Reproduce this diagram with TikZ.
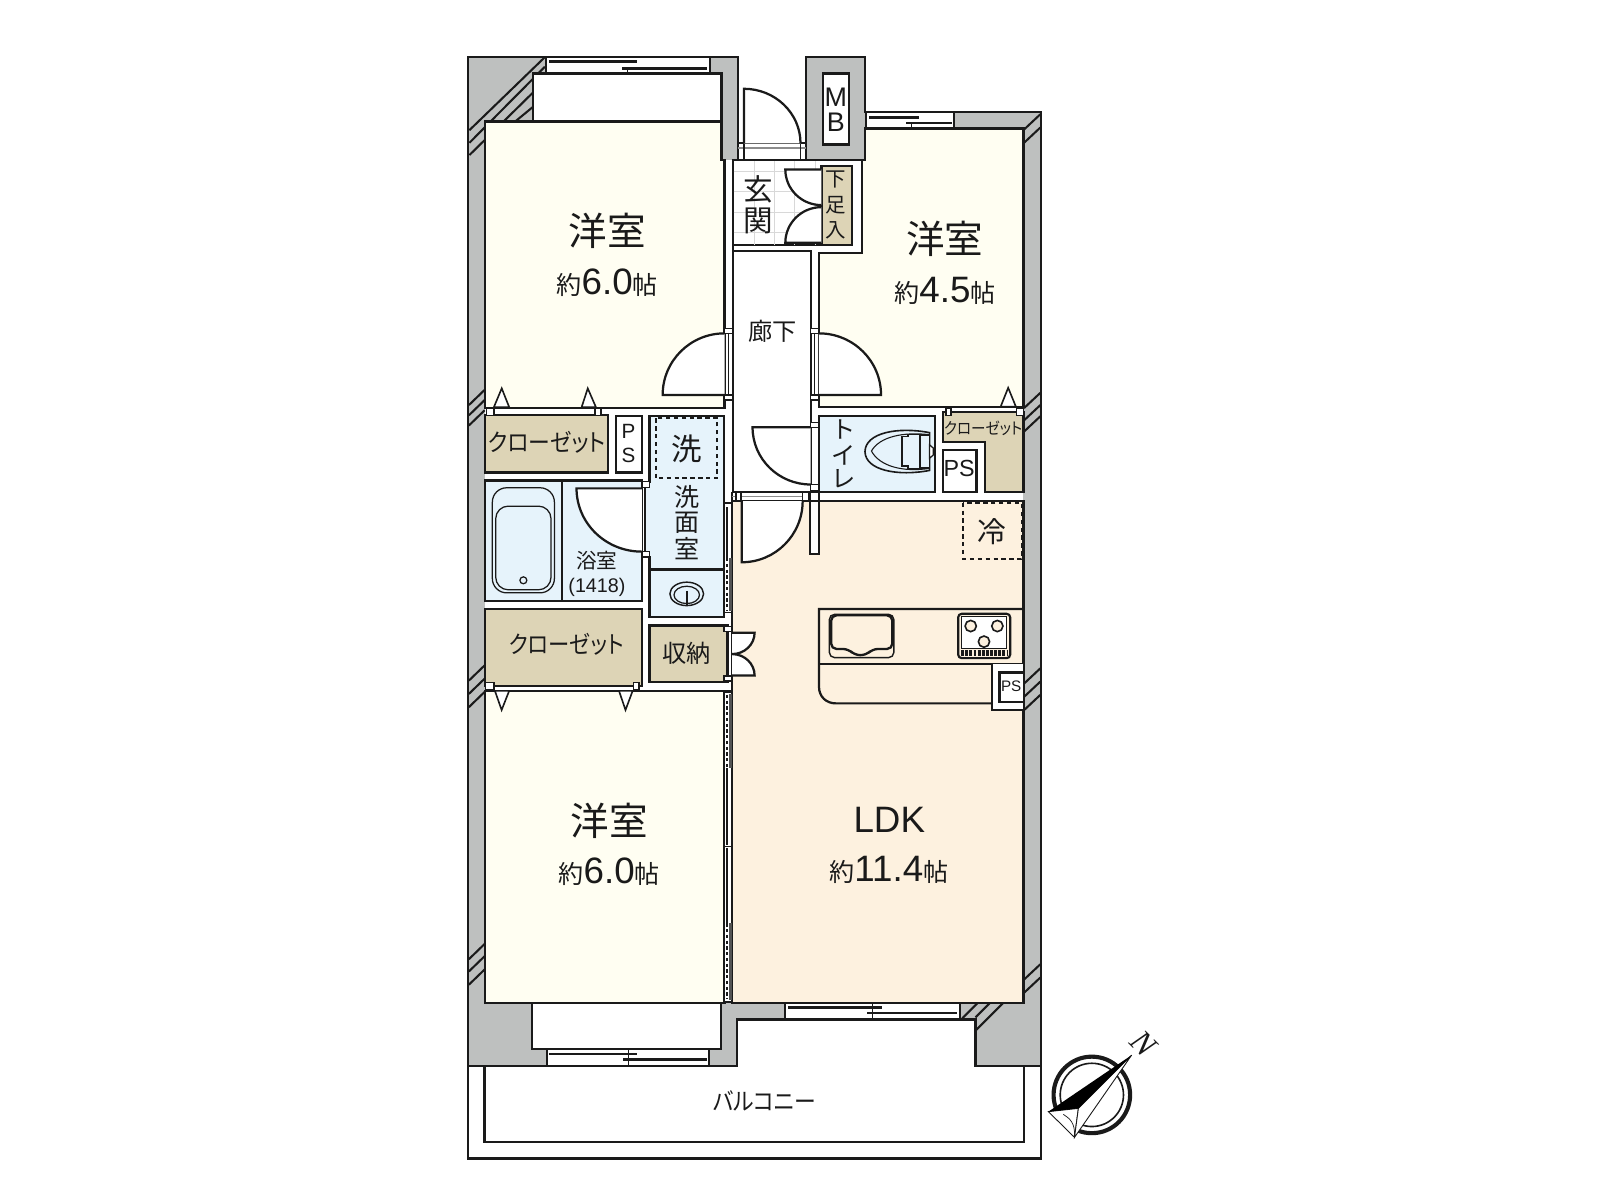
\documentclass[tikz,border=0pt]{standalone}
\usepackage{fontspec}
\setmainfont{Noto Sans CJK JP}
\newfontfamily\jp{Noto Sans CJK JP}
\newfontfamily\jpk[RawFeature=+palt]{Noto Sans CJK JP}
\newfontfamily\lat{Liberation Sans}
\newfontfamily\ser{Liberation Serif}
\newcommand\fs[1]{\fontsize{#1pt}{#1pt}\selectfont}
\definecolor{wallc}{HTML}{BEC0BF}
\definecolor{creamc}{HTML}{FFFEF2}
\definecolor{ldkc}{HTML}{FDF1DF}
\definecolor{bluec}{HTML}{E6F3FB}
\definecolor{closetc}{HTML}{DDD4B6}
\definecolor{inkc}{HTML}{1A1A1A}
\definecolor{tilec}{HTML}{D8D8D8}
\tikzset{
  ln/.style={draw=inkc,line width=1.25pt,line join=miter},
  thin ln/.style={draw=inkc,line width=.6pt},
  room/.style={ln,fill=creamc},
  bluer/.style={ln,fill=bluec},
  closet/.style={ln,fill=closetc},
  whitebox/.style={ln,fill=white},
  jamb/.style={draw=inkc,line width=.8pt,fill=white},
  label/.style={inner sep=0pt,outer sep=0pt,text=inkc,font=\jp},
  rail/.style={draw=inkc,line width=1.5pt},
  hatchl/.style={draw=inkc,line width=1.15pt},
  tri/.style={draw=inkc,line width=.9pt,fill=white,line join=miter},
  dash box/.style={draw=inkc,line width=1pt,dash pattern=on 2.4pt off 2pt},
  dots/.style={draw=inkc,line width=.7pt,dash pattern=on 1.8pt off 1.4pt},
  bar/.style={draw=inkc!75,line width=1.7pt},
}
\newcommand\door[6]{%
  \fill[white] (#1,#2) -- (#1+#3,#2+#4) .. controls (#1+#3+.5523*#5,#2+#4+.5523*#6) and (#1+#5+.5523*#3,#2+#6+.5523*#4) .. (#1+#5,#2+#6) -- cycle;
  \draw[ln] (#1,#2) -- (#1+#3,#2+#4) .. controls (#1+#3+.5523*#5,#2+#4+.5523*#6) and (#1+#5+.5523*#3,#2+#6+.5523*#4) .. (#1+#5,#2+#6);
}
\newcommand\hatchR[1]{\draw[hatchl] (1019.5,#1) -- (1003.5,#1+15);}
\newcommand\hatchL[1]{\draw[hatchl] (475,#1) -- (459.5,#1+15);}
\begin{document}
\begin{tikzpicture}[x=.02cm,y=-.02cm]
\useasboundingbox (0,0) rectangle (1568,1176);
\fill[white] (0,0) rectangle (1568,1176);
% structure footprint
\draw[ln,fill=wallc] (459,56) -- (723,56) -- (723,157) -- (790,157) -- (790,56) -- (848,56) -- (848,110) -- (1020,110) -- (1020,1045) -- (956,1045) -- (956,999) -- (722,999) -- (722,1045) -- (459,1045) -- cycle;
\fill[white] (475,157) rectangle (1003,983);
% hatching
\draw[hatchl] (534,56) -- (460,127.6);
\draw[hatchl] (534,65.4) -- (460,140);
\draw[hatchl] (522,91) -- (460,152);
\draw[hatchl] (522,105) -- (505,119);
\foreach \y in {382,392,402,652,665,678,925,937,950} {\hatchL{\y}}
\foreach \y in {112,125,385,397,408,655,668,681,945,958} {\hatchR{\y}}
\draw[hatchl] (958,983) -- (943,998);
\draw[hatchl] (970,983) -- (956,997);
\draw[hatchl] (983,983) -- (956,1010);
% windows
\draw[whitebox] (535,56) rectangle (696,72);
\draw[rail] (538,60.5) -- (624,60.5);
\draw[rail] (610,67) -- (693,67);
\draw[thin ln] (614.5,67) -- (614.5,72);
\draw[whitebox] (848.5,110) rectangle (935,126);
\draw[rail] (852,115) -- (901,115);
\draw[rail] (888,120.5) -- (933,120.5);
\draw[thin ln] (893,120.5) -- (893,126);
\draw[whitebox] (536.4,1028) rectangle (695,1045);
\draw[rail] (538,1033) -- (624,1033);
\draw[rail] (610.6,1038) -- (693,1038);
\draw[thin ln] (615.6,1028) -- (615.6,1045);
\draw[whitebox] (769.5,983) rectangle (940.5,999);
\draw[rail] (772,987) -- (864,987);
\draw[rail] (850,992.7) -- (938,992.7);
\draw[thin ln] (855,983) -- (855,999);
% bays
\draw[whitebox] (522,72) rectangle (707,119);
\draw[whitebox] (521,983) rectangle (706.5,1028);
% entrance threshold
\draw[draw=inkc,line width=.8pt] (723,140) -- (790,140);
\draw[draw=tilec!60!inkc,line width=.8pt] (723,145) -- (790,145);
\draw[draw=inkc,line width=.7pt] (729,140) -- (729,157);
\draw[draw=inkc,line width=.7pt] (784.5,140) -- (784.5,157);
% rooms
\draw[room] (475,119) -- (707,119) -- (707,157) -- (710,157) -- (710,400) -- (475,400) -- cycle;
\draw[room] (848,126) -- (1003,126) -- (1003,399) -- (802.6,399) -- (802.6,248) -- (844.6,248) -- (844.6,157) -- (848,157) -- cycle;
\draw[room] (475,677) -- (710,677) -- (710,983) -- (475,983) -- cycle;
\fill[ldkc] (717.5,491) rectangle (1003,983);
\draw[ln] (717.5,491) -- (1003,491) -- (1003,983) -- (717.5,983) -- cycle;
% corridor and entry walls
\draw[ln] (718.5,157) -- (718.5,482.5) -- (794.5,482.5) -- (794.5,245.7) -- (718.5,245.7);
\draw[ln] (717.5,482.5) -- (717.5,983);
\draw[draw=inkc,line width=.8pt] (717,157) -- (845,157);
\draw[ln] (718.5,240) -- (835,240) -- (835,162.7) -- (805,162.7);
\draw[draw=tilec!60!inkc,line width=.7pt] (717,486.7) -- (794,486.7);
% entry tiles
\foreach \x in {739,759,779,799} {\draw[tilec,line width=.6pt] (\x,158) -- (\x,240);}
\foreach \y in {168,188,208,228} {\draw[tilec,line width=.6pt] (719,\y) -- (805,\y);}
% shoe cupboard
\draw[closet] (805,162.7) rectangle (835,240);
\door{805}{166}{-35.4}{0}{0}{35}
\door{805}{238}{-35.4}{0}{0}{-35}
% MB
\draw[whitebox] (806.5,72) rectangle (832,141.5);
% closets, PS, laundry, bath
\draw[closet] (475,406.7) rectangle (595.5,463);
\draw[whitebox] (603.7,407.7) rectangle (628.9,463);
\draw[bluer] (636.4,407.7) -- (709.5,407.7) -- (709.5,605) -- (636.4,605) -- (636.4,546) -- (632,546) -- (632,472) -- (636.4,472) -- cycle;
\draw[ln] (636.4,558) -- (709.5,558);
\draw[dash box] (642.6,410) rectangle (703,468.8);
\draw[bluer] (475,471) rectangle (629,589);
\draw[ln] (551,471) -- (551,589);
\door{629}{478.6}{-64}{0}{0}{62}
\draw[jamb] (629,472) rectangle (636.4,478);
\draw[jamb] (629,540.6) rectangle (636.4,546);
% tub
\draw[draw=inkc,line width=.7pt,rounded corners=8pt] (482.5,478) rectangle (543.3,581);
\draw[draw=inkc,line width=.7pt,rounded corners=7pt] (485.8,496) rectangle (540,578);
\draw[draw=inkc,line width=.7pt] (512.9,568.7) circle[radius=3.4];
% wash basin
\draw[draw=inkc,line width=.8pt] (673,582) ellipse[x radius=16.5,y radius=11.5];
\draw[draw=inkc,line width=.7pt] (673,583) ellipse[x radius=12.5,y radius=8.5];
\draw[draw=inkc,line width=1pt] (673,579) -- (673,593);
% lower closet and storage
\draw[closet] (475,597) rectangle (629,672);
\draw[closet] (636.4,613) rectangle (713,668.7);
\draw[ln] (636,677) -- (717.5,677);
\draw[ln] (636,605) -- (709.5,605);
\draw[jamb] (709.5,614) rectangle (717,619);
\draw[jamb] (709.5,662.5) rectangle (717,667.5);
\door{717.5}{620}{22}{0}{0}{21}
\door{717.5}{662}{22}{0}{0}{-21}
% closet jambs and triangles
\draw[jamb] (477,400) rectangle (484,407);
\draw[jamb] (583,400) rectangle (589,407);
\draw[jamb] (476,669) rectangle (484,676);
\draw[jamb] (621,669) rectangle (626,676);
\draw[tri] (484,399) -- (491.7,380.6) -- (499,399) -- cycle;
\draw[tri] (570,399) -- (576,380.6) -- (584,399) -- cycle;
\draw[tri] (485,677) -- (491.6,695.8) -- (499,677) -- cycle;
\draw[tri] (606.6,677) -- (613,695.8) -- (620,677) -- cycle;
\draw[tri] (980.6,398.6) -- (988,380) -- (995.6,398.6) -- cycle;
% sliding door strips
\draw[draw=inkc,line width=.8pt,fill=white] (709.5,493) rectangle (717.5,600);
\draw[draw=inkc,line width=.7pt] (712.5,497) -- (712.5,547);
\draw[dots] (712.5,547) -- (712.5,598);
\draw[bar] (715.6,547) -- (715.6,599);
\draw[draw=inkc,line width=.9pt,fill=white] (710,678.5) rectangle (717.5,982);
\draw[ln,line width=.8pt] (710,829.5) -- (717.5,829.5);
\draw[dots] (712.5,681) -- (712.5,753);
\draw[bar] (715.6,680) -- (715.6,753);
\draw[draw=inkc,line width=.7pt] (712.5,753) -- (712.5,828);
\draw[draw=inkc,line width=.7pt] (712.5,831) -- (712.5,905);
\draw[dots] (712.5,905) -- (712.5,979);
\draw[bar] (715.6,905) -- (715.6,980);
% room doors
\door{710}{387}{-60.6}{0}{0}{-60.3}
\door{802.6}{387}{60.8}{0}{0}{-60.3}
\door{729}{140.5}{0}{-53.5}{55.5}{0}
\foreach \y in {322,387} {
  \draw[jamb] (710,\y) rectangle (718.5,\y+5);
  \draw[jamb] (794.5,\y) rectangle (802.6,\y+5);
}
\draw[draw=inkc,line width=.6pt] (714,327) -- (714,387);
\draw[draw=inkc,line width=.6pt] (798.5,327) -- (798.5,387);
% toilet
\draw[bluer] (802.6,407.4) rectangle (916,482.5);
\door{794.5}{418.8}{-57}{0}{0}{56}
\draw[jamb] (794.5,414) rectangle (802.6,419);
\draw[jamb] (794.5,475) rectangle (802.6,481);
\draw[ln,line width=.9pt] (911,424) .. controls (880,418) and (848,424) .. (847.7,442.6) .. controls (848,461) and (880,467) .. (911,461) -- cycle;
\draw[draw=inkc,line width=.6pt] (911,426) .. controls (885,423) and (862,428) .. (854,442) .. controls (862,457) and (885,463) .. (911,459);
\draw[ln,line width=.8pt,fill=bluec] (884,428) -- (890,428) -- (890,426) -- (901.5,426) -- (901.5,459) -- (890,459) -- (890,456.5) -- (884,456.5) -- cycle;
\draw[ln,line width=.8pt,fill=bluec] (901.5,426.5) rectangle (911,458.5);
\draw[ln,line width=.7pt,fill=white] (911,436) -- (914.5,439) -- (914.5,446) -- (911,449) -- cycle;
% upper right closet and PS
\draw[closet] (924,403.4) -- (1003,403.4) -- (1003,482.5) -- (965.3,482.5) -- (965.3,433.5) -- (924,433.5) -- cycle;
\draw[whitebox] (924,441) rectangle (957,482.5);
\draw[jamb] (927,400) rectangle (932,407);
\draw[jamb] (996,400) rectangle (1003,407);
% LDK stub and door
\draw[ln,fill=white] (794,491) -- (794,543) -- (802.6,543) -- (802.6,491);
\door{727}{491}{0}{60}{59.6}{0}
\draw[jamb] (721.3,482.5) rectangle (726,491);
\draw[jamb] (786.6,482.5) rectangle (792.2,491);
\draw[jamb] (794,482.5) rectangle (802.6,491);
% fridge
\draw[dash box] (944,492.6) rectangle (1001,548);
% kitchen
\draw[ln] (1003,596.8) -- (802.6,596.8) -- (802.6,673) .. controls (802.6,683) and (810,689.3) .. (819,689.3) -- (972,689.3);
\draw[ln] (802.6,650.8) -- (1003,650.8);
\fill[white] (972,650.8) rectangle (1002.4,695.2);
\draw[ln] (972,650.8) -- (972,695.8) -- (1003,695.8);
\draw[ln] (1003,659) -- (979.4,659) -- (979.4,688) -- (1003,688);
% kitchen sink
\draw[draw=inkc,line width=.8pt,rounded corners=3pt] (812.7,602) rectangle (876,644.5);
\draw[draw=inkc,line width=1.3pt,rounded corners=3pt] (814.5,603) -- (874.5,603) -- (874.5,636) -- (855,636) -- (849,642) -- (837.5,642) -- (831.5,636) -- (814.5,636) -- cycle;
% stove
\draw[draw=inkc,line width=1.2pt,fill=ldkc,rounded corners=2pt] (939,601.5) rectangle (990,645);
\draw[draw=inkc,line width=.9pt,fill=white] (942.4,604) rectangle (986.5,635.4);
\draw[draw=inkc,line width=.9pt,fill=ldkc] (951.3,613.5) circle[radius=5.5];
\draw[draw=inkc,line width=.9pt,fill=ldkc] (977.4,613.5) circle[radius=5.5];
\draw[draw=inkc,line width=.9pt,fill=ldkc] (964.3,628.8) circle[radius=5.5];
\draw[draw=inkc,line width=3pt,dash pattern=on 1.6pt off .7pt] (942,640) -- (987,640);
% balcony
\draw[ln] (459,1045) -- (459,1135.2) -- (1020,1135.2) -- (1020,1045);
\draw[ln] (474.8,1045.3) -- (474.8,1118.9) -- (1003.5,1118.9) -- (1003.5,1045.3);
% labels
\node[label] (r1a) at (595,226) {\fs{21.5}洋室};
\node[label] (r1b) at (595,277) {\fs{14}約{\lat\fs{20.5}6.0}帖};
\node[label] (r2a) at (926,234) {\fs{21.5}洋室};
\node[label] (r2b) at (926,285) {\fs{14}約{\lat\fs{20.5}4.5}帖};
\node[label] (r3a) at (597,804) {\fs{21.5}洋室};
\node[label] (r3b) at (597,854) {\fs{14}約{\lat\fs{20.5}6.0}帖};
\node[label] (ldka) at (871.5,803) {\lat\fs{20.5}LDK};
\node[label] (ldkb) at (871,852) {\fs{14}約{\lat\fs{20.5}11.4}帖};
\node[label] (ent1) at (743,186) {\fs{16.5}玄};
\node[label] (ent2) at (743,216) {\fs{16.5}関};
\node[label] (sh1) at (819,176) {\fs{11.4}下};
\node[label] (sh2) at (819,201) {\fs{11.4}足};
\node[label] (sh3) at (819,226) {\fs{11.4}入};
\node[label] (hall) at (757,325) {\fs{13.5}廊下};
\node[label] (mb1) at (819,95) {\lat\fs{15}M};
\node[label] (mb2) at (819,120) {\lat\fs{15}B};
\node[label,xscale=.9] (cl1) at (536,433) {\jpk\fs{13.5}クローゼット};
\node[label] (ps1a) at (616,423) {\lat\fs{11.5}P};
\node[label] (ps1b) at (616,446) {\lat\fs{11.5}S};
\node[label] (wm) at (673,440) {\fs{17}洗};
\node[label] (ws1) at (673,487) {\fs{14}洗};
\node[label] (ws2) at (673,512) {\fs{14}面};
\node[label] (ws3) at (673,538) {\fs{14}室};
\node[label] (bt1) at (585,549) {\fs{11.5}浴室};
\node[label] (bt2) at (585,576) {\lat\fs{11}(1418)};
\node[label,xscale=.88] (cl2) at (555,631) {\jpk\fs{13.5}クローゼット};
\node[label] (stor) at (673,640) {\fs{13.5}収納};
\node[label] (wc1) at (827,421) {\fs{13.5}ト};
\node[label] (wc2) at (827,446.6) {\fs{13.5}イ};
\node[label] (wc3) at (827,469) {\fs{13.5}レ};
\node[label,xscale=.9] (cl3) at (963.5,420) {\jpk\fs{9}クローゼット};
\node[label] (ps2) at (940,459) {\lat\fs{13}PS};
\node[label] (ps3) at (991,673) {\lat\fs{8.5}PS};
\node[label] (fr) at (972,521) {\fs{16}冷};
\node[label,xscale=.9] (bal) at (749,1079) {\jpk\fs{13.5}バルコニー};
% compass
\draw[draw=inkc,line width=2.3pt] (1070,1073) circle[radius=37.5];
\draw[draw=inkc,line width=.9pt] (1070,1073) circle[radius=31];
\draw[draw=inkc,line width=.5pt,fill=white] (1027.4,1089.4) -- (1056.8,1086.2) -- (1053,1114.6) -- cycle;
\draw[draw=inkc,line width=.5pt,fill=white] (1109,1034) -- (1056.8,1086.2) -- (1053,1114.6) -- cycle;
\fill[black] (1109,1034) -- (1027.4,1089.4) -- (1056.8,1086.2) -- cycle;
\draw[draw=inkc,line width=.4pt] (1042,1092) .. controls (1048,1096) and (1054,1100) .. (1053,1114.6);
\node[label,rotate=-45] (north) at (1120.5,1022.5) {\ser\itshape\fs{18}N};
\end{tikzpicture}
\end{document}
